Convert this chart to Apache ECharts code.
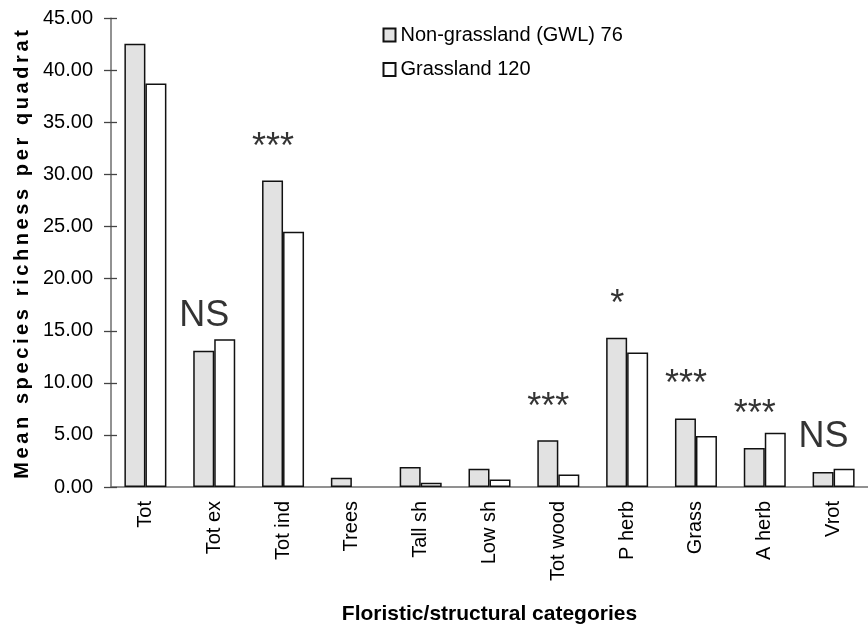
<!DOCTYPE html>
<html>
<head>
<meta charset="utf-8">
<script src="https://cdn.jsdelivr.net/npm/echarts@6/dist/echarts.min.js"></script>
<style>
html,body{margin:0;padding:0;background:#fff;}
#chart{width:868px;height:630px;}
</style>
</head>
<body>
<div id="chart"></div>
<script>
// ---- data ----
var categories = ['Tot','Tot ex','Tot ind','Trees','Tall sh','Low sh','Tot wood','P herb','Grass','A herb','Vrot'];
var nonGrassland = [42.55, 13.08, 29.43, 0.88, 1.92, 1.76, 4.49, 14.34, 6.57, 3.74, 1.44];
var grassland    = [38.74, 14.18, 24.50, 0,    0.41, 0.72, 1.19, 12.92, 4.90, 5.22, 1.76];
var seriesNames = ['Non-grassland (GWL) 76', 'Grassland 120'];
var annotCats  = ['Tot ex','Tot ind','Tot wood','P herb','Grass','A herb','Vrot'];
var annotTexts = ['NS','***','***','*','***','***','NS'];
var annotY     = [16.4, 32.5, 7.58, 17.5, 9.79, 6.87, 4.75];
var yMin = 0, yMax = 45, yStep = 5;
var yTitle = 'Mean species richness per quadrat';
var xTitle = 'Floristic/structural categories';

// the reference spreads the letters of the vertical axis title: widen spacing for that string only
(function(){
  var proto = CanvasRenderingContext2D.prototype;
  if (!('letterSpacing' in proto)) return;
  var orig = proto.fillText;
  proto.fillText = function(t){
    if (t === yTitle) {
      var f = this.font;
      this.letterSpacing = '3.6px';
      this.font = '10px serif'; this.font = f;
      var r = orig.apply(this, arguments);
      this.letterSpacing = '0px';
      this.font = '10px serif'; this.font = f;
      return r;
    }
    return orig.apply(this, arguments);
  };
})();

var FONT = '"Liberation Sans", Arial, sans-serif';
var chart = echarts.init(document.getElementById('chart'), null, {renderer:'canvas'});

function barData(vals){
  return vals.map(function(v){
    return v === 0 ? {value:v, itemStyle:{borderWidth:0}} : v;
  });
}

var option = {
  backgroundColor:'#fff',
  animation:false,
  textStyle:{fontFamily:FONT},
  grid:{left:111, top:18.3, right:-8.6, bottom:134.7, containLabel:false},
  legend:{
    orient:'vertical', left:382.5, top:25, padding:0, itemGap:14.5,
    itemWidth:12, itemHeight:13, icon:'rect',
    textStyle:{fontSize:20, color:'#000', fontFamily:FONT},
    data:seriesNames
  },
  xAxis:[{
    type:'category', data:categories,
    axisLine:{lineStyle:{color:'#6e6e6e', width:1.5}},
    axisTick:{length:7, lineStyle:{color:'#444', width:1.3}},
    axisLabel:{rotate:90, fontSize:20, color:'#000', margin:14, fontFamily:FONT},
    name:xTitle, nameLocation:'middle', nameGap:117,
    nameTextStyle:{fontSize:21, fontWeight:'bold', color:'#000', fontFamily:FONT}
  },{
    type:'category', data:categories, position:'bottom',
    axisLine:{show:false},
    axisTick:{inside:true, length:7, lineStyle:{color:'#444', width:1.3}},
    axisLabel:{show:false}
  }],
  yAxis:[{
    type:'value', min:yMin, max:yMax, interval:yStep,
    axisLine:{show:true, lineStyle:{color:'#6e6e6e', width:1.5}},
    axisTick:{show:true, length:7, lineStyle:{color:'#444', width:1.3}},
    splitLine:{show:false},
    axisLabel:{fontSize:20, color:'#000', margin:18, fontFamily:FONT,
      formatter:function(v){return v.toFixed(2);}},
    name:yTitle, nameLocation:'middle', nameGap:79,
    nameTextStyle:{fontSize:20, fontWeight:'bold', color:'#000', fontFamily:FONT}
  },{
    type:'value', min:yMin, max:yMax, interval:yStep, position:'left', offset:0,
    axisLine:{show:false},
    axisTick:{show:true, inside:true, length:6, lineStyle:{color:'#444', width:1.3}},
    splitLine:{show:false},
    axisLabel:{show:false}
  }],
  series:[{
    name:seriesNames[0], type:'bar', data:barData(nonGrassland), barWidth:21, barGap:'0%',
    itemStyle:{color:'#e2e2e2', borderColor:'#111', borderWidth:1.5}
  },{
    name:seriesNames[1], type:'bar', data:barData(grassland), barWidth:21, barGap:'0%',
    itemStyle:{color:'#ffffff', borderColor:'#111', borderWidth:1.5}
  },{
    type:'scatter', symbolSize:0, silent:true,
    data:annotCats.map(function(c,i){return [c, annotY[i]];}),
    label:{show:true, position:'inside', offset:[-10,0], fontSize:36, color:'#000',
      textBorderWidth:0, fontFamily:FONT,
      formatter:function(p){return annotTexts[p.dataIndex];}}
  }]
};
chart.setOption(option);
</script>
</body>
</html>
